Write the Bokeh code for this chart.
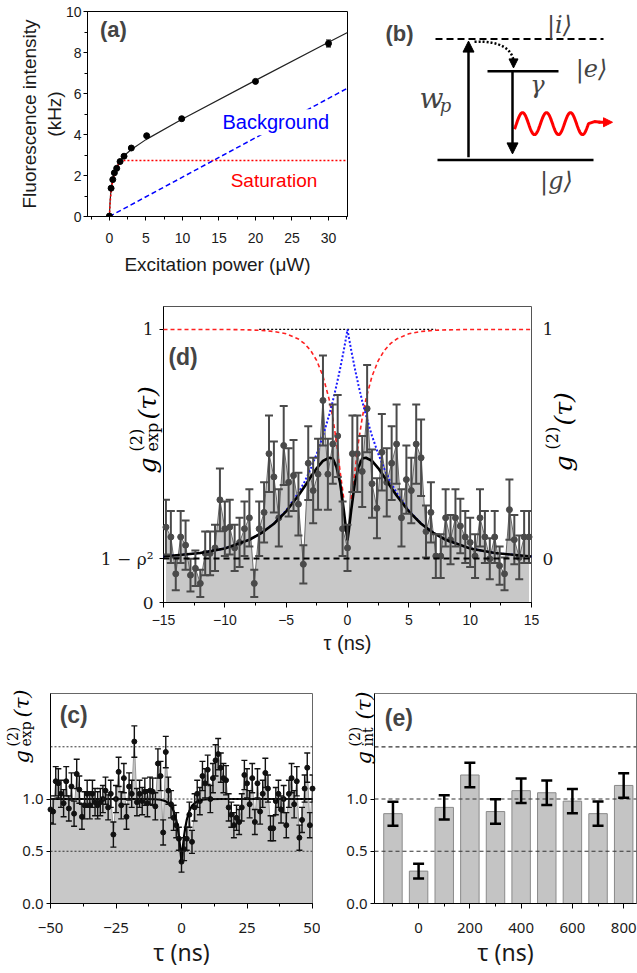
import numpy as np
from bokeh.plotting import figure
from bokeh.layouts import column, row
from bokeh.models import (Range1d, LinearAxis, FixedTicker, SingleIntervalTicker,
                          Whisker, TeeHead, ColumnDataSource, Label, Span, Arrow,
                          NormalHead, NumeralTickFormatter, GridBox)
from bokeh.embed import file_html
from bokeh.resources import INLINE

SANS = "Liberation Sans"
SANS2 = "Noto Sans"
SERIF = "DejaVu Serif"
NAN = float("nan")

# ---------------- (a) saturation data ----------------
a_power = [0.0, 0.23, 0.46, 0.68, 1.0, 1.46, 2.0, 3.0, 5.1, 9.9, 20.0, 30.0]
a_counts = [0.02, 1.38, 1.80, 2.13, 2.35, 2.68, 2.94, 3.34, 3.94, 4.77, 6.59, 8.44]
a_err = [0, 0, 0, 0, 0, 0, 0, 0, 0, 0, 0, 0.17]
a_fit_x = [0, 0.05, 0.1, 0.2, 0.3, 0.5, 0.75, 1.0, 1.5, 2.0, 3.0, 5.0, 10.0, 20.0, 30.0, 32.6]
a_fit_y = [0, 0.43, 0.76, 1.22, 1.52, 1.90, 2.20, 2.42, 2.72, 2.96, 3.27, 3.75, 4.76, 6.64, 8.50, 8.98]
a_sat_x = [0, 0.1, 0.25, 0.5, 1.0, 1.5, 2.0, 32.6]
a_sat_y = [0, 0.70, 1.30, 1.85, 2.40, 2.68, 2.73, 2.73]
a_bg_x = [0, 32.6]
a_bg_y = [0, 6.26]

# ---------------- (d) short-range correlation ----------------
d_tau = [-14.8, -14.4, -14.0, -13.6, -13.2, -12.8, -12.4, -12.0, -11.6, -11.2,
         -10.8, -10.4, -10.0, -9.6, -9.2, -8.8, -8.4, -8.0, -7.6, -7.2,
         -6.8, -6.4, -6.0, -5.6, -5.2, -4.8, -4.4, -4.0, -3.6, -3.2,
         -2.8, -2.4, -2.0, -1.6, -1.2, -0.8, -0.4, 0.0, 0.4, 0.8,
         1.2, 1.6, 2.0, 2.4, 2.8, 3.2, 3.6, 4.0, 4.4, 4.8,
         5.2, 5.6, 6.0, 6.4, 6.8, 7.2, 7.6, 8.0, 8.4, 8.8,
         9.2, 9.6, 10.0, 10.4, 10.8, 11.2, 11.6, 12.0, 12.4, 12.8,
         13.2, 13.6, 14.0, 14.4, 14.8]
d_g = [0.276, 0.24, 0.105, 0.24, 0.21, 0.10, 0.125, 0.07, 0.18, 0.18,
       0.20, 0.376, 0.27, 0.276, 0.20, 0.22, 0.27, 0.31, 0.07, 0.27,
       0.33, 0.545, 0.46, 0.31, 0.575, 0.44, 0.465, 0.36, 0.14, 0.51,
       0.41, 0.47, 0.74, 0.47, 0.58, 0.61, 0.27, 0.20, 0.545, 0.545,
       0.48, 0.71, 0.435, 0.345, 0.55, 0.44, 0.51, 0.58, 0.31, 0.45,
       0.41, 0.58, 0.53, 0.26, 0.33, 0.17, 0.17, 0.31, 0.23, 0.31,
       0.28, 0.24, 0.22, 0.17, 0.31, 0.24, 0.16, 0.24, 0.135, 0.105,
       0.34, 0.23, 0.165, 0.24, 0.24]
d_err = [0.10, 0.095, 0.06, 0.095, 0.09, 0.06, 0.065, 0.05, 0.08, 0.08,
         0.085, 0.115, 0.10, 0.10, 0.085, 0.09, 0.10, 0.105, 0.05, 0.10,
         0.11, 0.14, 0.13, 0.105, 0.145, 0.125, 0.13, 0.115, 0.07, 0.135,
         0.12, 0.13, 0.165, 0.13, 0.145, 0.15, 0.10, 0.085, 0.14, 0.14,
         0.13, 0.16, 0.125, 0.11, 0.14, 0.125, 0.135, 0.145, 0.105, 0.125,
         0.12, 0.145, 0.14, 0.095, 0.11, 0.08, 0.08, 0.105, 0.09, 0.105,
         0.10, 0.095, 0.09, 0.08, 0.105, 0.095, 0.075, 0.095, 0.07, 0.06,
         0.11, 0.09, 0.08, 0.095, 0.095]
d_one_minus_rho2 = 0.161
d_curve_tau = [-15, -12, -10, -8, -7, -6, -5, -4, -3.5, -3, -2.5, -2, -1.5, -1.2, -0.9,
               -0.6, -0.3, -0.1, 0, 0.1, 0.3, 0.6, 0.9, 1.2, 1.5, 2, 2.5, 3, 3.5, 4,
               5, 6, 7, 8, 10, 12, 15]
d_blue = [0.009, 0.024, 0.044, 0.082, 0.112, 0.153, 0.21, 0.287, 0.335, 0.392, 0.458,
          0.535, 0.626, 0.687, 0.755, 0.829, 0.91, 0.969, 1.0, 0.969, 0.91, 0.829,
          0.755, 0.687, 0.626, 0.535, 0.458, 0.392, 0.335, 0.287, 0.21, 0.153,
          0.112, 0.082, 0.044, 0.024, 0.009]
d_red = [1.0, 1.0, 1.0, 0.998, 0.996, 0.991, 0.981, 0.958, 0.938, 0.908, 0.863,
         0.796, 0.696, 0.614, 0.51, 0.379, 0.26, NAN, NAN, NAN, 0.26, 0.379,
         0.51, 0.614, 0.696, 0.796, 0.863, 0.908, 0.938, 0.958, 0.981, 0.991,
         0.996, 0.998, 1.0, 1.0, 1.0]
d_black = [0.009, 0.024, 0.044, 0.082, 0.112, 0.152, 0.206, 0.275, 0.314, 0.356, 0.395,
           0.426, 0.44, 0.437, 0.40, 0.33, 0.21, 0.12, 0.08, 0.12, 0.21, 0.33,
           0.40, 0.437, 0.44, 0.426, 0.395, 0.356, 0.314, 0.275, 0.206, 0.152,
           0.112, 0.082, 0.044, 0.024, 0.009]
d_unity_tau = [-7.2, 7.2]
d_unity = [1.0, 1.0]

# ---------------- (c) long-range correlation ----------------
c_tau = list(range(-50, 51))
c_g = [0.90, 0.88, 1.17, 1.15, 1.05, 0.96, 1.17, 0.91, 1.12, 0.86,
       1.24, 1.09, 0.83, 0.94, 1.05, 0.94, 1.05, 0.97, 0.94, 0.97,
       1.00, 1.08, 0.92, 1.05, 0.66, 1.00, 1.26, 0.94, 1.20, 0.83,
       1.12, 1.05, 1.55, 0.97, 1.05, 0.98, 1.07, 0.96, 1.08, 1.07,
       0.93, 1.34, 1.22, 0.68, 1.45, 1.08, 0.95, 0.82, 0.75, 0.62,
       0.40,
       0.52, 0.62, 0.85, 0.59, 0.92, 1.05, 0.98, 1.22, 1.15, 1.28,
       1.00, 1.20, 1.37, 1.43, 1.30, 1.20, 1.18, 0.92, 0.85, 0.75,
       0.82, 0.78, 0.92, 1.23, 1.15, 0.95, 1.20, 0.78, 1.15, 0.88,
       1.05, 1.25, 1.10, 0.72, 0.72, 0.98, 1.05, 0.90, 1.00, 0.75,
       1.05, 1.20, 0.95, 1.17, 0.63, 0.80, 1.10, 1.30, 0.75, 1.10]
c_err = [0.13, 0.12, 0.14, 0.14, 0.13, 0.13, 0.14, 0.12, 0.13, 0.12,
         0.14, 0.13, 0.12, 0.13, 0.13, 0.13, 0.13, 0.13, 0.13, 0.13,
         0.13, 0.13, 0.12, 0.13, 0.12, 0.13, 0.14, 0.13, 0.14, 0.12,
         0.13, 0.13, 0.15, 0.13, 0.13, 0.13, 0.13, 0.13, 0.13, 0.13,
         0.13, 0.14, 0.14, 0.12, 0.15, 0.13, 0.13, 0.12, 0.12, 0.11,
         0.10,
         0.11, 0.11, 0.12, 0.11, 0.13, 0.13, 0.13, 0.14, 0.14, 0.14,
         0.13, 0.14, 0.15, 0.15, 0.14, 0.14, 0.14, 0.13, 0.12, 0.12,
         0.12, 0.12, 0.13, 0.14, 0.14, 0.13, 0.14, 0.12, 0.14, 0.12,
         0.13, 0.14, 0.13, 0.12, 0.12, 0.13, 0.13, 0.13, 0.13, 0.12,
         0.13, 0.14, 0.13, 0.14, 0.12, 0.12, 0.13, 0.14, 0.12, 0.13]
c_fit_tau = [-50, -15, -10, -8, -6, -5, -4, -3, -2, -1.5, -1, -0.5, 0,
             0.5, 1, 1.5, 2, 3, 4, 5, 6, 8, 10, 15, 50]
c_fit = [1.0, 1.0, 0.998, 0.993, 0.978, 0.96, 0.935, 0.885, 0.80, 0.735, 0.65, 0.54, 0.39,
         0.54, 0.65, 0.735, 0.80, 0.885, 0.935, 0.96, 0.978, 0.993, 0.998, 1.0, 1.0]

# ---------------- (e) integrated correlation ----------------
e_tau = [-100, 0, 100, 200, 300, 400, 500, 600, 700, 800]
e_g = [0.86, 0.31, 0.92, 1.23, 0.88, 1.08, 1.06, 0.98, 0.86, 1.13]
e_err = [0.115, 0.07, 0.117, 0.117, 0.117, 0.117, 0.117, 0.117, 0.117, 0.117]

# ---------------- (b) level scheme (schematic drawing units = page px) ----------------
lvl_i = dict(x0=435, x1=603, y=40)
lvl_e = dict(x0=487, x1=558, y=87)
lvl_g = dict(x0=437, x1=593, y=216)
pump_x, decay_x = 468, 512

PAGE_W, PAGE_H = 637, 973


def make_fig(w, h, xr, yr, mb):
    p = figure(width=w, height=h, x_range=xr, y_range=yr, output_backend="svg",
               toolbar_location=None, min_border_left=mb[0], min_border_right=mb[1],
               min_border_top=mb[2], min_border_bottom=mb[3])
    p.grid.visible = False
    p.background_fill_color = "white"
    p.border_fill_color = "white"
    return p


def style_axis(ax, font, size, color="#1a1a1a", tick_out=5, standoff=5):
    ax.major_label_text_font = font
    ax.major_label_text_font_size = f"{size}px"
    ax.major_label_text_color = color
    ax.axis_label_text_font_style = "normal"
    ax.axis_label_text_color = color
    ax.major_tick_in = 0
    ax.major_tick_out = tick_out
    ax.minor_tick_in = 0
    ax.minor_tick_out = 3
    ax.major_label_standoff = standoff
    ax.axis_line_color = "black"
    ax.major_tick_line_color = "black"
    ax.minor_tick_line_color = "black"


def add_whisker(p, xs, ys, errs, color, width, cap):
    keep = [i for i, e in enumerate(errs) if e > 0]
    src = ColumnDataSource(dict(x=[xs[i] for i in keep],
                                lo=[ys[i] - errs[i] for i in keep],
                                hi=[ys[i] + errs[i] for i in keep]))
    w = Whisker(source=src, base="x", lower="lo", upper="hi", line_color=color,
                line_width=width, level="annotation",
                upper_head=TeeHead(size=cap, line_color=color, line_width=width),
                lower_head=TeeHead(size=cap, line_color=color, line_width=width))
    p.add_layout(w)


# ================= panel (a) =================
pa = make_fig(348, 298, (-3, 32.6), (0, 10), (87, 1, 11, 82))
pa.outline_line_color = "black"
pa.xaxis.ticker = SingleIntervalTicker(interval=5, num_minor_ticks=2)
pa.yaxis.ticker = SingleIntervalTicker(interval=2, num_minor_ticks=2)
style_axis(pa.xaxis[0], SANS, 14, tick_out=4, standoff=12)
style_axis(pa.yaxis[0], SANS, 14, tick_out=4, standoff=2)
pa.xaxis.axis_label = "Excitation power (μW)"
pa.yaxis.axis_label = "Fluorescence intensity\n(kHz)"
for ax in (pa.xaxis[0], pa.yaxis[0]):
    ax.axis_label_text_font = SANS
    ax.axis_label_text_font_size = "19px"
pa.xaxis.axis_label_standoff = 8
pa.yaxis.axis_label_standoff = -2
pa.line(a_fit_x, a_fit_y, line_color="#222", line_width=1.2)
pa.line(a_bg_x, a_bg_y, line_color="blue", line_dash="5 3", line_width=1.5)
pa.line(a_sat_x, a_sat_y, line_color="red", line_dash="2 2", line_width=1.6)
pa.scatter(a_power, a_counts, size=6, color="black")
add_whisker(pa, a_power, a_counts, a_err, "black", 1.2, 5)
pa.add_layout(Label(x=15.2, y=4.6, text="Background", text_font=SANS,
                    text_font_size="20px", text_color="blue", text_baseline="middle",
                    background_fill_color="white", background_fill_alpha=1.0,
                    padding=2))
pa.add_layout(Label(x=16.6, y=1.76, text="Saturation", text_font=SANS,
                    text_font_size="19px", text_color="red", text_baseline="middle"))
pa.add_layout(Label(x=-1.3, y=9.1, text="(a)", text_font=SANS, text_font_size="22px",
                    text_font_style="bold", text_baseline="middle"))

# ================= panel (b) =================
pb = figure(width=289, height=298, x_range=Range1d(348, 637), y_range=Range1d(298, 0),
            output_backend="svg", toolbar_location=None, min_border=0,
            x_axis_type=None, y_axis_type=None)
pb.grid.visible = False
pb.outline_line_color = None
pb.segment(x0=[lvl_i["x0"]], y0=[lvl_i["y"]], x1=[lvl_i["x1"]], y1=[lvl_i["y"]],
           line_color="black", line_width=2, line_dash="7 4")
pb.segment(x0=[lvl_e["x0"], lvl_g["x0"]], y0=[lvl_e["y"], lvl_g["y"]],
           x1=[lvl_e["x1"], lvl_g["x1"]], y1=[lvl_e["y"], lvl_g["y"]],
           line_color="black", line_width=2.5)
pb.add_layout(Arrow(x_start=pump_x, y_start=lvl_g["y"] - 4, x_end=pump_x,
                    y_end=lvl_i["y"] + 3, line_width=2.5,
                    end=NormalHead(size=11, fill_color="black", line_color="black")))
pb.add_layout(Arrow(x_start=decay_x, y_start=lvl_e["y"], x_end=decay_x,
                    y_end=lvl_g["y"] - 9, line_width=2.5,
                    end=NormalHead(size=11, fill_color="black", line_color="black")))
pb.bezier(x0=[474], y0=[44], x1=[513], y1=[74], cx0=[500], cy0=[42], cx1=[513], cy1=[56],
          line_color="black", line_width=2.5, line_dash="2 2")
pb.add_layout(Arrow(x_start=513, y_start=72, x_end=513, y_end=82, line_alpha=0,
                    end=NormalHead(size=9, fill_color="black", line_color="black")))
# emitted photon (decorative wavy arrow)
wx = np.linspace(514, 588, 160)
wy = 163 - 16 * np.sin(2 * np.pi * (wx - 516) / 24.0)
pb.line(list(wx) + [594, 600], list(wy) + [160, 161], line_color="red", line_width=3)
pb.add_layout(Arrow(x_start=598, y_start=161, x_end=612, y_end=161, line_color="red",
                    line_width=3, end=NormalHead(size=9, fill_color="red",
                                                 line_color="red")))
for tx, ty, tt in [(559, 19, "|i⟩"), (591, 83, "|e⟩"), (556, 247, "|g⟩"), (537, 107, "γ")]:
    pb.add_layout(Label(x=tx, y=ty, text=tt, text_font=SERIF, text_font_style="italic",
                        text_font_size="24px", text_align="center",
                        text_baseline="middle"))
pb.add_layout(Label(x=431, y=127, text="w", text_font=SERIF, text_font_style="italic",
                    text_font_size="28px", text_align="center", text_baseline="middle"))
pb.add_layout(Label(x=445, y=136, text="p", text_font=SERIF, text_font_style="italic",
                    text_font_size="18px", text_align="center", text_baseline="middle"))
pb.add_layout(Label(x=385, y=32, text="(b)", text_font=SANS, text_font_size="22px",
                    text_font_style="bold", text_baseline="middle"))

# ================= panel (d) =================
g2_lo = (0 - d_one_minus_rho2) / (1 - d_one_minus_rho2)
g2_hi = (1.084 - d_one_minus_rho2) / (1 - d_one_minus_rho2)
pd_ = make_fig(637, 364, (-15, 15), (0, 1.084), (163, 106, 8, 60))
pd_.extra_y_ranges = {"g2": Range1d(g2_lo, g2_hi)}
pd_.outline_line_color = "#555"
pd_.xaxis.ticker = SingleIntervalTicker(interval=5, num_minor_ticks=2)
pd_.yaxis.ticker = FixedTicker(ticks=[0, d_one_minus_rho2, 1])
pd_.yaxis.major_label_overrides = {0: "0", d_one_minus_rho2: "1 − ρ²", 1: "1"}
style_axis(pd_.xaxis[0], SANS, 14, standoff=7)
style_axis(pd_.yaxis[0], SERIF, 17, tick_out=4, standoff=6)
pd_.yaxis.minor_tick_out = 0
ry = LinearAxis(y_range_name="g2", ticker=FixedTicker(ticks=[0, 1]))
style_axis(ry, SERIF, 17, tick_out=0, standoff=11)
ry.minor_tick_out = 0
ry.axis_line_color = None
pd_.add_layout(ry, "right")
pd_.xaxis.axis_label = "τ (ns)"
pd_.xaxis.axis_label_text_font = SANS
pd_.xaxis.axis_label_text_font_size = "20px"
pd_.xaxis.axis_label_standoff = 4
pd_.varea(x=d_tau, y1=0, y2=d_g, fill_color="#c8c8c8")
pd_.line(d_tau, d_g, line_color="#6a6a6a", line_width=1)
add_whisker(pd_, d_tau, d_g, d_err, "#4a4a4a", 2, 8)
pd_.scatter(d_tau, d_g, size=6, color="#4a4a4a", level="annotation")
pd_.add_layout(Span(location=d_one_minus_rho2, dimension="width", line_color="black",
                    line_dash="6 4", line_width=2))
pd_.line(d_unity_tau, d_unity, y_range_name="g2", line_color="black", line_dash="2 2",
         line_width=1.3, level="annotation")
pd_.line(d_curve_tau, d_red, y_range_name="g2", line_color="#ff2020", line_dash="4 3",
         line_width=1.6, level="annotation")
pd_.line(d_curve_tau, d_blue, y_range_name="g2", line_color="#1a1aff", line_dash="2 2",
         line_width=2, level="annotation")
pd_.line(d_curve_tau, d_black, y_range_name="g2", line_color="black", line_width=2.6,
         level="annotation")
pd_.add_layout(Label(x=-14.6, y=0.90, text="(d)", text_font=SANS, text_font_size="23px",
                     text_font_style="bold", text_baseline="middle"))

# ================= panel (c) =================
pc = make_fig(320, 311, (-50, 50), (0, 2.01), (50, 8, 31, 70))
pc.outline_line_color = "#666"
pc.xaxis.ticker = SingleIntervalTicker(interval=25, num_minor_ticks=2)
pc.yaxis.ticker = FixedTicker(ticks=[0, 0.5, 1.0])
pc.yaxis.formatter = NumeralTickFormatter(format="0.0")
pc.xaxis.major_label_overrides = {-50: "−50", -25: "−25"}
style_axis(pc.xaxis[0], SANS2, 15, standoff=14)
style_axis(pc.yaxis[0], SANS2, 15, tick_out=4, standoff=3)
pc.xaxis.axis_label = "τ (ns)"
pc.xaxis.axis_label_text_font = SANS2
pc.xaxis.axis_label_text_font_size = "23px"
pc.xaxis.axis_label_standoff = 0
pc.varea(x=c_tau, y1=0, y2=c_g, fill_color="#c8c8c8")
pc.line(c_tau, c_g, line_color="#9a9a9a", line_width=1)
add_whisker(pc, c_tau, c_g, c_err, "#111", 1.4, 6)
pc.scatter(c_tau, c_g, size=5, color="#111", level="annotation")
for lv in (0.5, 1.0, 1.5):
    pc.add_layout(Span(location=lv, dimension="width", line_color="#333",
                       line_dash="2 2", line_width=1))
pc.line(c_fit_tau, c_fit, line_color="black", line_width=2.2, level="annotation")
pc.add_layout(Label(x=-46.5, y=1.80, text="(c)", text_font=SANS, text_font_size="23px",
                    text_font_style="bold", text_baseline="middle"))

# ================= panel (e) =================
pe = make_fig(317, 311, (-172, 850), (0, 2.01), (54, 1, 31, 70))
pe.outline_line_color = "#777"
pe.xaxis.ticker = SingleIntervalTicker(interval=200, num_minor_ticks=2)
pe.yaxis.ticker = FixedTicker(ticks=[0, 0.5, 1.0])
pe.yaxis.formatter = NumeralTickFormatter(format="0.0")
style_axis(pe.xaxis[0], SANS2, 15, standoff=14)
style_axis(pe.yaxis[0], SANS2, 15, tick_out=4, standoff=3)
pe.xaxis.axis_label = "τ (ns)"
pe.xaxis.axis_label_text_font = SANS2
pe.xaxis.axis_label_text_font_size = "23px"
pe.xaxis.axis_label_standoff = 0
pe.vbar(x=e_tau, top=e_g, width=72, fill_color="#c4c4c4", line_color="#8a8a8a")
for lv in (0.5, 1.0, 1.5):
    pe.add_layout(Span(location=lv, dimension="width", line_color="#333",
                       line_dash="4 3", line_width=1.2))
add_whisker(pe, e_tau, e_g, e_err, "black", 2.5, 11)
pe.add_layout(Label(x=-132, y=1.78, text="(e)", text_font=SANS, text_font_size="23px",
                    text_font_style="bold", text_baseline="middle"))

# ================= transparent overlay for the stacked math axis titles =================
ov = figure(width=PAGE_W, height=PAGE_H, x_range=Range1d(0, PAGE_W),
            y_range=Range1d(PAGE_H, 0), output_backend="svg", toolbar_location=None,
            min_border=0, x_axis_type=None, y_axis_type=None)
ov.grid.visible = False
ov.outline_line_color = None
ov.background_fill_color = None
ov.border_fill_color = None


def rlabel(x, y, text, size, style="normal"):
    ov.add_layout(Label(x=x, y=y, text=text, angle=90, angle_units="deg",
                        text_font=SERIF, text_font_size=f"{size}px",
                        text_font_style=style, text_align="left",
                        text_baseline="alphabetic", text_color="black"))


# (d) left: g^(2)_exp(tau)
rlabel(147, 473, "g", 25, "italic")
rlabel(136, 451, "(2)", 16)
rlabel(152, 451, "exp", 16)
rlabel(147, 419, "(τ)", 25, "italic")
# (d) right: g^(2)(tau)
rlabel(563, 471, "g", 25, "italic")
rlabel(552, 449, "(2)", 16)
rlabel(563, 425, "(τ)", 25, "italic")
# (c): g^(2)_exp(tau)
rlabel(21, 763, "g", 21, "italic")
rlabel(12, 746, "(2)", 14)
rlabel(25, 746, "exp", 14)
rlabel(21, 717, "(τ)", 21, "italic")
# (e): g^(2)_int(tau)
rlabel(363, 764, "g", 21, "italic")
rlabel(354, 746, "(2)", 14)
rlabel(367, 746, "int", 14)
rlabel(363, 719, "(τ)", 21, "italic")

main = column(row(pa, pb), pd_, row(pc, pe))
page = GridBox(children=[(main, 0, 0), (ov, 0, 0)])
open("out.html", "w").write(file_html(page, INLINE))
